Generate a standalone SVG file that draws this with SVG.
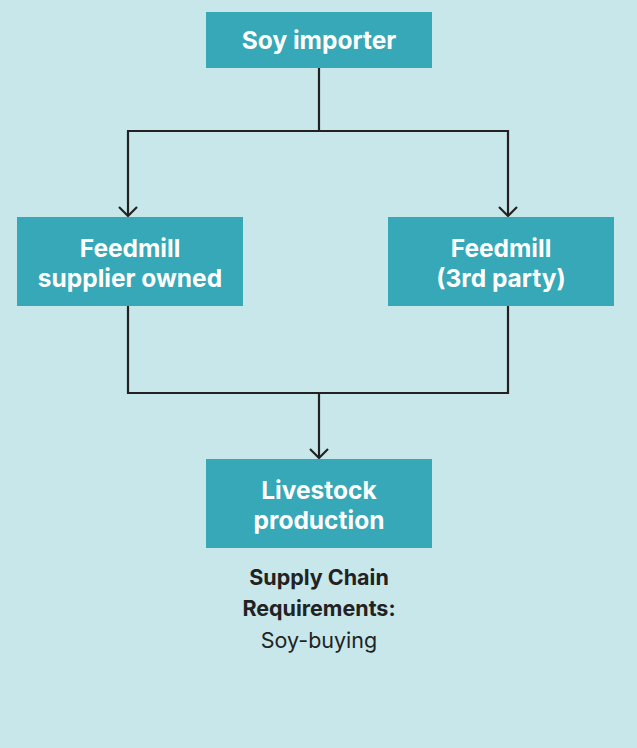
<svg xmlns="http://www.w3.org/2000/svg" width="637" height="748" viewBox="0 0 637 748">
<defs>
<style>
.box{fill:#36a8b8}
.lbl{font-family:Inter,"Noto Sans",sans-serif;font-weight:700;font-size:24.5px;fill:#ffffff;text-anchor:middle}
.cap{font-family:Inter,"Noto Sans",sans-serif;font-size:21.5px;fill:#222222;text-anchor:middle}
.conn{fill:none;stroke:#222222;stroke-width:2.2}
</style>
<marker id="arr" viewBox="0 0 20 20" refX="10" refY="10" markerWidth="20" markerHeight="20" markerUnits="userSpaceOnUse" orient="auto">
<path d="M1,1 L10,10 L1,19" fill="none" stroke="#222222" stroke-width="2.2"/>
</marker>
</defs>
<rect width="637" height="748" fill="#c8e7ea"/>
<g id="connectors">
<path class="conn" d="M319,68 V131 H128 V216" marker-end="url(#arr)"/>
<path class="conn" d="M319,131 H508 V216" marker-end="url(#arr)"/>
<path class="conn" d="M128,306 V393 H508 V306"/>
<path class="conn" d="M319,393 V458" marker-end="url(#arr)"/>
</g>
<g id="soy-importer">
<rect class="box" x="206" y="12" width="226" height="56"/>
<text class="lbl" x="319" y="49">Soy importer</text>
</g>
<g id="feedmill-supplier">
<rect class="box" x="17" y="217" width="226" height="89"/>
<text class="lbl" x="130" y="257">Feedmill</text>
<text class="lbl" x="130" y="287">supplier owned</text>
</g>
<g id="feedmill-3rd">
<rect class="box" x="388" y="217" width="226" height="89"/>
<text class="lbl" x="501" y="257">Feedmill</text>
<text class="lbl" x="501" y="287">(3rd party)</text>
</g>
<g id="livestock">
<rect class="box" x="206" y="459" width="226" height="89"/>
<text class="lbl" x="319" y="499">Livestock</text>
<text class="lbl" x="319" y="529">production</text>
</g>
<g id="requirements">
<text class="cap" x="319" y="585" font-weight="700">Supply Chain</text>
<text class="cap" x="319" y="616" font-weight="700">Requirements:</text>
<text class="cap" x="319" y="648">Soy-buying</text>
</g>
</svg>
